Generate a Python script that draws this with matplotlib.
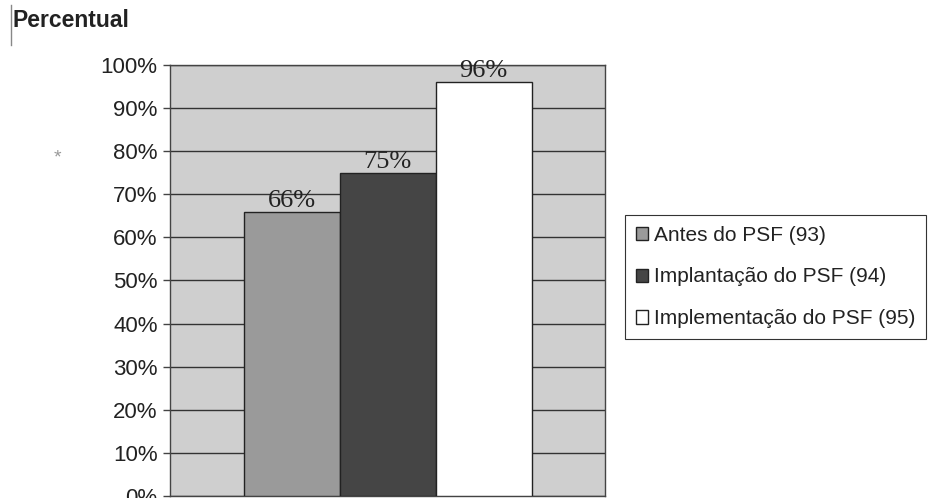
import matplotlib
matplotlib.use("Agg")
import matplotlib.pyplot as plt
from matplotlib.lines import Line2D
import numpy as np

# PSF coverage by period
series = ["Antes do PSF (93)", "Implantação do PSF (94)", "Implementação do PSF (95)"]
values = [66, 75, 96]
bar_labels = ["66%", "75%", "96%"]
y_ticks = [0, 10, 20, 30, 40, 50, 60, 70, 80, 90, 100]

colors = ["#9a9a9a", "#454545", "#ffffff"]
sans = ["Liberation Sans", "DejaVu Sans"]
serif = ["Liberation Serif", "DejaVu Serif"]

fig = plt.figure(figsize=(9.4, 4.98), dpi=100)
ax = fig.add_axes([0.181, 0.004, 0.4628, 0.8655])
ax.set_facecolor("#cfcfcf")

x = np.arange(len(values)) - 1.0
for xi, v, c, lab in zip(x, values, colors, series):
    ax.bar(xi, v, width=1.0, color=c, edgecolor="#222222", linewidth=1.0,
           label=lab, zorder=3)

for xi, v, txt in zip(x, values, bar_labels):
    ax.annotate(txt, (xi, v), xytext=(0, 0), textcoords="offset points",
                ha="center", va="bottom", fontsize=19, family=serif,
                color="#222222", zorder=4)

ax.set_xlim(-2.265, 2.265)
ax.set_ylim(0, 100)
ax.set_yticks(y_ticks)
ax.set_yticklabels([f"{t}%" for t in y_ticks], family=sans, fontsize=16,
                   color="#222222")
ax.set_xticks([])
ax.tick_params(axis="y", length=5, width=1, color="#444444", pad=4)
ax.yaxis.grid(True, color="#333333", linewidth=1.0, zorder=1)
ax.set_axisbelow(True)
for s in ax.spines.values():
    s.set_color("#444444")
    s.set_linewidth(1.0)

leg = fig.legend(loc="upper left", bbox_to_anchor=(0.665, 0.568),
                 bbox_transform=fig.transFigure, prop={"family": sans, "size": 15},
                 handlelength=0.6, handleheight=0.6, handletextpad=0.3,
                 labelspacing=1.1, borderpad=0.5, borderaxespad=0.0,
                 fancybox=False, framealpha=1.0, edgecolor="#333333")
leg.get_frame().set_linewidth(0.8)
for t in leg.get_texts():
    t.set_color("#222222")

fig.text(0.013, 0.958, "Percentual", fontsize=16.5, fontweight="bold",
         family=sans, color="#222222", va="center", ha="left")
fig.text(0.061, 0.683, "*", fontsize=14, family=sans, color="#999999",
         va="center", ha="center")
fig.add_artist(Line2D([0.012, 0.012], [0.91, 0.99], color="#888888",
                      linewidth=1.0, transform=fig.transFigure))

fig.savefig("out.png", dpi=100)
